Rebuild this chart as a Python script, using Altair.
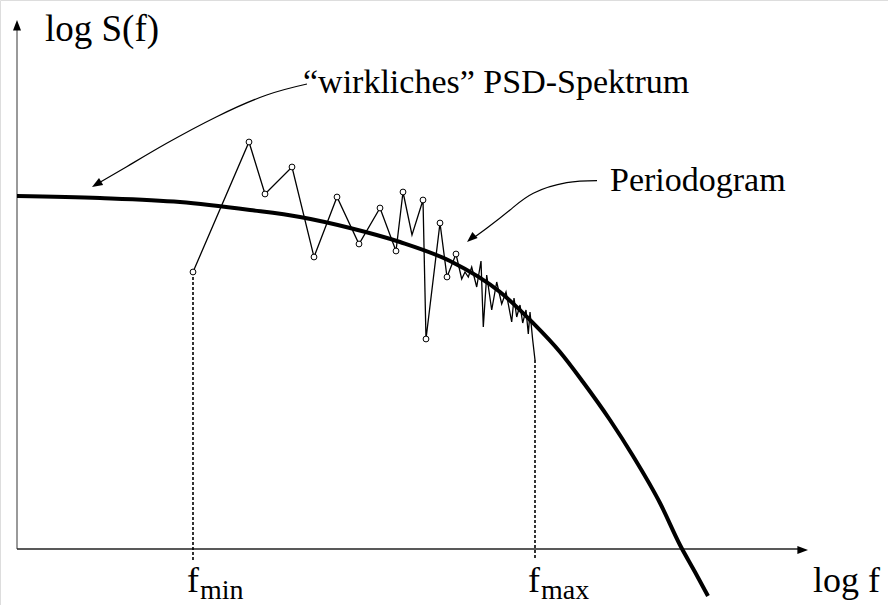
import altair as alt
import pandas as pd

W, H = 888, 605

# ---- data (x to the right in log f units, y downward) ----
psd_x = [17, 100, 180, 250, 300, 350, 400, 450, 500, 533, 560, 583, 610, 633, 660, 680, 695, 708]
psd_y = [196, 198, 202, 210, 217, 228, 242, 261, 292, 323, 352, 382, 420, 456, 503, 545, 572, 596]

per_x = [193, 249, 265, 292, 314, 337, 359, 380, 396, 403, 412, 423, 426, 440, 447, 456,
         461.7, 465, 468.3, 471.7, 476.7, 481, 483.3, 486.7, 491.7, 496.7, 501.7, 506,
         511.7, 514, 516.7, 520, 522.7, 526, 528.3, 530, 532.7, 535]
per_y = [272, 142, 194, 167, 257, 197, 244, 208, 251, 192, 235, 200, 339, 223, 277, 254,
         279, 272, 277, 267, 287, 261, 327, 275, 310, 282, 304, 292,
         322, 298, 317, 305, 323, 310, 334, 312, 340, 360]
per_marker = [1] * 10 + [0] + [1] * 5 + [0] * 22

# arrows
arrow1_x = [307, 266.7, 216.7, 166.7, 126.7, 97]
arrow1_y = [84, 95, 116.7, 143.3, 166.7, 184]
arrow2_x = [597, 566.7, 533.3, 510, 486.7, 474]
arrow2_y = [180.7, 182.7, 193.3, 210, 228.3, 237.5]

heads_x = [17, 808, 92, 467]
heads_y = [20, 550, 187, 242]
heads_angle = [0, 90, 239, 229]

# texts
labels = ["log S(f)", "“wirkliches” PSD-Spektrum", "Periodogram", "log f", "f", "min", "f", "max"]
label_x = [45, 303, 610, 813, 187, 200, 528, 541]
label_y = [41, 93, 191, 592, 592, 599, 592, 599]
label_fs = [37, 34, 34, 36, 36, 28, 36, 28]

# ---- frames ----
psd = pd.DataFrame({"x": psd_x, "y": psd_y})
per = pd.DataFrame({"x": per_x, "y": per_y, "m": per_marker, "i": range(len(per_x))})
a1 = pd.DataFrame({"x": arrow1_x, "y": arrow1_y, "i": range(len(arrow1_x))})
a2 = pd.DataFrame({"x": arrow2_x, "y": arrow2_y, "i": range(len(arrow2_x))})
heads = pd.DataFrame({"x": heads_x, "y": heads_y, "a": heads_angle})
txt = pd.DataFrame({"t": labels, "x": label_x, "y": label_y, "fs": label_fs})

yaxis = pd.DataFrame({"x": [17], "y": [28], "y2": [549]})
xaxis = pd.DataFrame({"x": [17], "x2": [798], "y": [549]})
drops = pd.DataFrame({"x": [193, 535], "y": [272, 360], "y2": [560, 560]})

xs = alt.Scale(domain=[0, W], nice=False, zero=False)
ys = alt.Scale(domain=[0, H], nice=False, zero=False, reverse=True)
X = alt.X("x:Q", scale=xs, axis=None)
Y = alt.Y("y:Q", scale=ys, axis=None)

y_axis = alt.Chart(yaxis).mark_rule(color="#9a9a9a", strokeWidth=2).encode(
    x=X, y=Y, y2="y2:Q")
x_axis = alt.Chart(xaxis).mark_rule(color="#222222", strokeWidth=1.6).encode(
    x=X, x2="x2:Q", y=Y)
drop_lines = alt.Chart(drops).mark_rule(color="black", strokeWidth=1.6, strokeDash=[3, 2]).encode(
    x=X, y=Y, y2="y2:Q")

psd_line = alt.Chart(psd).mark_line(color="black", strokeWidth=4, interpolate="monotone").encode(
    x=X, y=Y)
per_line = alt.Chart(per).mark_line(color="black", strokeWidth=1.3).encode(
    x=X, y=Y, order="i:Q")
per_pts = alt.Chart(per).transform_filter("datum.m == 1").mark_point(
    shape="circle", filled=True, fill="white", stroke="black", strokeWidth=1, size=34, opacity=1
).encode(x=X, y=Y)

arr1 = alt.Chart(a1).mark_line(color="black", strokeWidth=1.2, interpolate="natural").encode(
    x=X, y=Y, order="i:Q")
arr2 = alt.Chart(a2).mark_line(color="black", strokeWidth=1.2, interpolate="natural").encode(
    x=X, y=Y, order="i:Q")
head_pts = alt.Chart(heads).mark_point(
    shape="M0,0L-0.38,1L0.38,1Z", filled=True, color="black", size=450, opacity=1
).encode(x=X, y=Y, angle=alt.Angle("a:Q", scale=None))

texts = alt.Chart(txt).mark_text(
    align="left", baseline="alphabetic", font="Liberation Serif", color="black"
).encode(x=X, y=Y, text="t:N", size=alt.Size("fs:Q", scale=None))

chart = alt.layer(
    y_axis, x_axis, drop_lines, psd_line, per_line, per_pts, arr1, arr2, head_pts, texts
).properties(
    width=W, height=H, padding=0, autosize=alt.AutoSizeParams(type="none")
).configure_view(stroke=None).configure(background="white")

chart.save("out.html", embed_options={"renderer": "svg", "actions": False})
